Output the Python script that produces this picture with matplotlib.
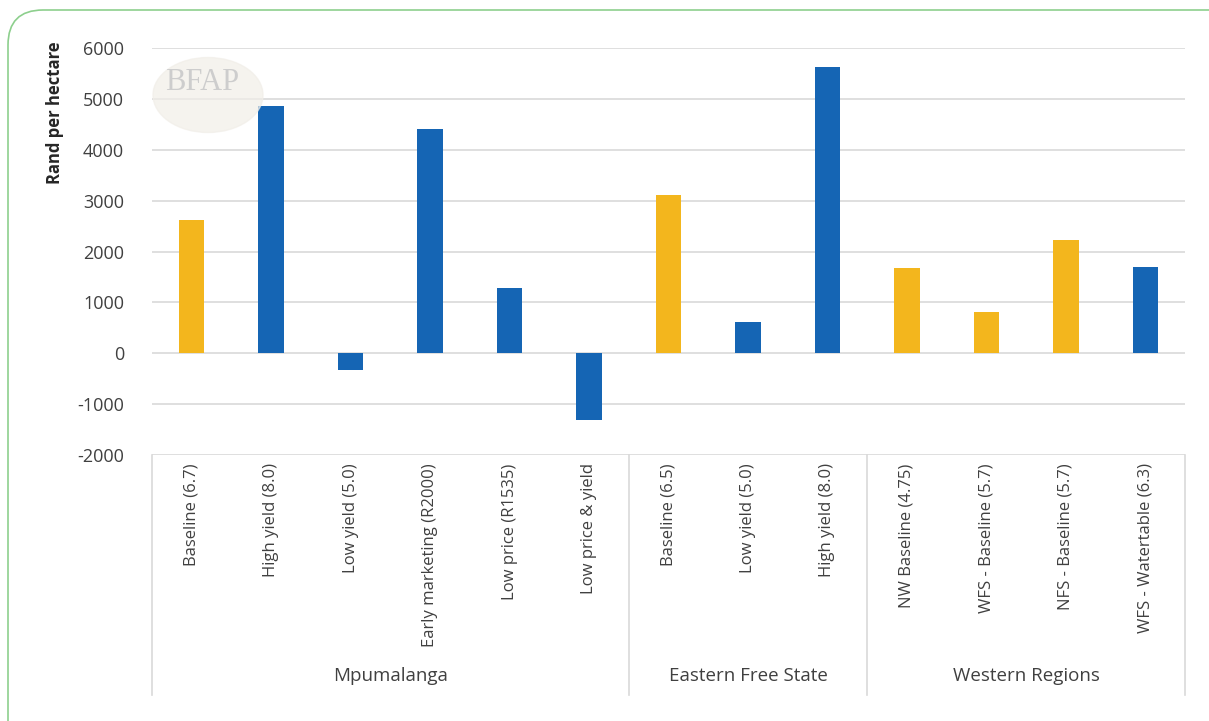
import matplotlib.pyplot as plt
from matplotlib.patches import FancyBboxPatch, Ellipse
import numpy as np

# chart data
groups = ["Mpumalanga", "Eastern Free State", "Western Regions"]
group_sizes = [6, 3, 4]
scenarios = ["Baseline (6.7)", "High yield (8.0)", "Low yield (5.0)", "Early marketing (R2000)",
             "Low price (R1535)", "Low price & yield",
             "Baseline (6.5)", "Low yield (5.0)", "High yield (8.0)",
             "NW Baseline (4.75)", "WFS - Baseline (5.7)", "NFS - Baseline (5.7)",
             "WFS - Watertable (6.3)"]
rand_per_ha = [2610, 4860, -330, 4400, 1280, -1310,
               3110, 610, 5620,
               1670, 810, 2220, 1690]
kind = ["base", "alt", "alt", "alt", "alt", "alt",
        "base", "alt", "alt",
        "base", "base", "base", "alt"]
yticks = [-2000, -1000, 0, 1000, 2000, 3000, 4000, 5000, 6000]

kind_colors = {"base": "#F3B61D", "alt": "#1565B4"}
grid_col = "#D9D9D9"
text_col = "#404040"

plt.rcParams['font.family'] = ['Open Sans', 'DejaVu Sans']

fig = plt.figure(figsize=(12.09, 7.21), dpi=100)
fig.patch.set_facecolor("white")
ax = fig.add_axes([152 / 1209, 1 - 455 / 721, (1185 - 152) / 1209, (455 - 48) / 721])

x = np.arange(len(scenarios))
ax.bar(x, rand_per_ha, width=0.32, color=[kind_colors[k] for k in kind], zorder=3)

ax.set_xlim(-0.5, len(scenarios) - 0.5)
ax.set_ylim(yticks[0], yticks[-1])
ax.set_yticks(yticks)
ax.set_yticklabels([str(t) for t in yticks], fontsize=13, color=text_col)
ax.grid(axis="y", color=grid_col, lw=1.2, zorder=0)
ax.tick_params(axis="y", length=0, pad=20)
for s in ax.spines.values():
    s.set_visible(False)

ax.set_xticks(x)
ax.set_xticklabels(scenarios, rotation=90, fontsize=12, color=text_col)
ax.tick_params(axis="x", length=0, pad=6)

# multi-level category box
tr = ax.get_xaxis_transform()
bounds = np.concatenate([[0], np.cumsum(group_sizes)]) - 0.5
for b in bounds:
    ax.plot([b, b], [0, -0.59], transform=tr, color=grid_col, lw=1.2, clip_on=False)
for g, lo, hi in zip(groups, bounds[:-1], bounds[1:]):
    ax.text((lo + hi) / 2, -0.543, g, transform=tr, ha="center", va="center",
            fontsize=13.5, color=text_col)

fig.text(55 / 1209, 1 - 113 / 721, "Rand per hectare", rotation=90, ha="center", va="center",
         fontsize=12, fontweight="bold", color="#262626")

# faint BFAP watermark
fig.patches.append(Ellipse((208, 721 - 95), 110, 75, transform=None, color="#F1EEE8", alpha=0.7, zorder=0))
fig.text(202 / 1209, 1 - 82 / 721, "BFAP", family=["Liberation Serif", "DejaVu Serif"], fontsize=22,
         color="#CDCDCD", ha="center", va="center")

# rounded green frame
frame = FancyBboxPatch((8, -60), 1400, 721 - 10 + 60, boxstyle="round,pad=0,rounding_size=35",
                       transform=None, fill=False, ec="#8DCF8D", lw=1.2)
fig.patches.append(frame)

fig.savefig("out.png", dpi=100)
